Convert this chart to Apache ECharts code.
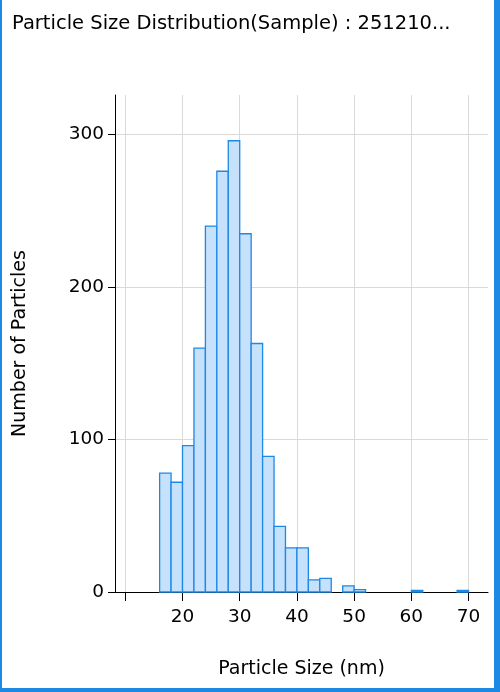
<!DOCTYPE html><html><head><meta charset="utf-8"><script src="https://cdn.jsdelivr.net/npm/echarts@6/dist/echarts.min.js"></script>
<style>html,body{margin:0;padding:0;background:#fff}#c{width:500px;height:692px;box-sizing:border-box;border:2px solid #1e88e5;border-top:none;border-bottom-width:4px;border-right-width:6px}</style></head><body><div id="c"></div><script>
const binStarts=[16,18,20,22,24,26,28,30,32,34,36,38,40,42,44,48,50,60,68];
const counts=[78,72,96,160,240,276,296,235,163,89,43,29,29,8,9,4,1.5,1,1];
const binWidth=2;
const xTicks=[10,20,30,40,50,60,70];
const yTicks=[0,100,200,300];
const chart=echarts.init(document.getElementById('c'));
const F='"DejaVu Sans",sans-serif';
chart.setOption({
 animation:false,
 title:{text:'Particle Size Distribution(Sample) : 251210...',left:5,top:9,textStyle:{fontFamily:F,fontSize:19.5,fontWeight:'normal',color:'#000'}},
 grid:{left:113,right:6,top:95,bottom:96,outerBoundsMode:'none',containLabel:false},
 xAxis:{type:'value',min:8.2,max:73.4,name:'Particle Size (nm)',nameLocation:'middle',nameGap:68,
  nameTextStyle:{fontFamily:F,fontSize:19,color:'#000'},
  axisLine:{onZero:false,lineStyle:{color:'#000'}},
  axisLabel:{fontFamily:F,fontSize:18.5,color:'#000',margin:16,customValues:[20,30,40,50,60,70]},
  axisTick:{show:true,customValues:xTicks,length:9,lineStyle:{color:'#000'}},
  splitLine:{show:true,lineStyle:{color:'#d9d9d9'}}},
 yAxis:{type:'value',min:0,max:326,name:'Number of Particles',nameLocation:'middle',nameGap:85,
  nameTextStyle:{fontFamily:F,fontSize:19,color:'#000'},
  axisLine:{show:true,lineStyle:{color:'#000'}},
  axisTick:{show:true,customValues:yTicks,length:7,lineStyle:{color:'#000'}},
  axisLabel:{fontFamily:F,fontSize:18.5,color:'#000',margin:11,customValues:yTicks},
  splitLine:{show:true,lineStyle:{color:'#d9d9d9'}}},
 series:[{type:'custom',data:binStarts.map((b,i)=>[b,counts[i]]),
  renderItem:(p,api)=>{const s=api.value(0),v=api.value(1);const a=api.coord([s,v]),b=api.coord([s+binWidth,0]);
   return {type:'rect',shape:{x:a[0],y:a[1],width:b[0]-a[0],height:b[1]-a[1]},style:{fill:'#c5e1fb',stroke:'#1e88e5',lineWidth:1.3}};}}]
});
</script></body></html>
